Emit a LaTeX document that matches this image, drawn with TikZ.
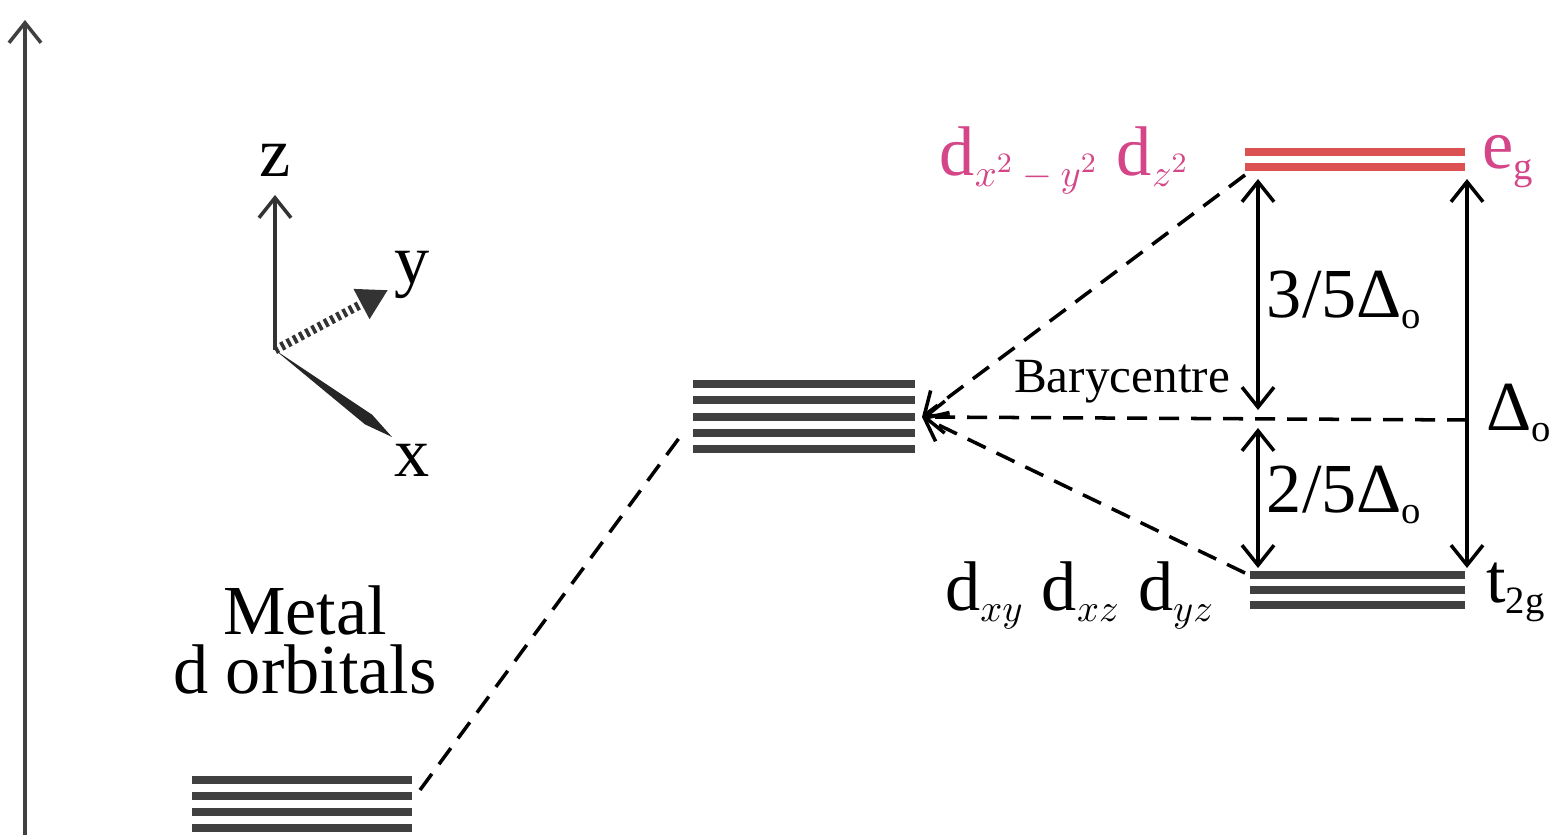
\documentclass[tikz,border=0pt]{standalone}
\usepackage{fontspec}
\setmainfont{Liberation Serif}
\usetikzlibrary{arrows.meta}
\definecolor{egred}{RGB}{220,82,82}
\definecolor{egpink}{RGB}{212,70,135}
\newcommand{\lsub}[1]{\textsubscript{\fontsize{11}{11}\selectfont #1}}
\tikzset{
  lvl/.style={line width=2pt, black!75},
  conn/.style={dash pattern=on 2mm off 1.2mm, line width=1pt},
  barb/.style={line width=1pt, -{Straight Barb[length=2mm,width=3.2mm]}},
  dbarb/.style={line width=1pt, {Straight Barb[length=2mm,width=3.2mm]}-{Straight Barb[length=2mm,width=3.2mm]}},
  big/.style={font=\fontsize{20}{22}\selectfont},
  small/.style={font=\fontsize{14}{16}\selectfont}
}
\begin{document}
\begin{tikzpicture}
    \useasboundingbox (0,0) rectangle (15.56,8.37);

    % energy axis
    \coordinate (e0) at (0.25,0.02);
    \coordinate (e1) at (0.25,8.17);
    \draw[barb, black!75] (e0) -- (e1);

    % coordinate axes
    \coordinate (O) at (2.75,4.87);
    \coordinate (zt) at (2.75,6.42);
    \coordinate (yt) at (3.88,5.47);
    \coordinate (xt) at (3.92,4.00);
    \draw[barb, black!80] (O) -- (zt);
    \draw[line width=2.5pt, black!80, dash pattern=on 1pt off 1pt, -{Triangle[length=3mm,width=3.2mm]}] (O) -- (yt);
    \fill[black!85] (O) -- (3.722,4.222) -- (xt) -- (3.650,4.126) -- cycle;
    \node[big] (zl) at (2.75,6.77) {z};
    \node[big] (yl) at (4.12,5.62) {y};
    \node[big] (xl) at (4.12,3.77) {x};

    % levels
    \foreach \y in {0.57,0.41,0.25,0.09}
        \draw[lvl] (1.92,\y) -- (4.12,\y);
    \foreach \y in {4.53,4.37,4.20,4.04,3.88}
        \draw[lvl] (6.93,\y) -- (9.15,\y);
    \foreach \y in {2.62,2.47,2.32}
        \draw[lvl] (12.50,\y) -- (14.65,\y);
    \foreach \y in {6.85,6.70}
        \draw[lvl, egred] (12.45,\y) -- (14.65,\y);

    \node[big, inner sep=0pt] (metal) at (3.05,2.27) {Metal};
    \node[big, inner sep=0pt] (dorb) at (3.05,1.68) {d orbitals};

    % connectors
    \coordinate (free) at (4.20,0.47);
    \coordinate (baryL) at (6.85,4.07);
    \coordinate (baryR) at (9.22,4.20);
    \coordinate (egL) at (12.45,6.62);
    \coordinate (t2gL) at (12.45,2.64);
    \coordinate (bcR) at (14.67,4.17);
    \draw[conn] (free) -- (baryL);
    \draw[conn, -{Straight Barb[length=2mm,width=3.2mm]}] (egL) -- (baryR);
    \draw[conn, -{Straight Barb[length=2mm,width=3.2mm]}] (bcR) -- (baryR);
    \draw[conn, -{Straight Barb[length=2mm,width=3.2mm]}] (t2gL) -- (baryR);

    % splitting arrows
    \coordinate (egA) at (12.58,6.58);
    \coordinate (bcU) at (12.58,4.27);
    \coordinate (bcD) at (12.58,4.09);
    \coordinate (t2gA) at (12.58,2.69);
    \coordinate (egB) at (14.67,6.58);
    \coordinate (t2gB) at (14.67,2.69);
    \draw[dbarb] (egA) -- (bcU);
    \draw[dbarb] (bcD) -- (t2gA);
    \draw[dbarb] (egB) -- (t2gB);

    % labels
    \node[big] (three) at (13.45,5.37) {3/5Δ\lsub{o}};
    \node[big] (two) at (13.45,3.42) {2/5Δ\lsub{o}};
    \node[big, anchor=west] (delta) at (14.74,4.24) {Δ\lsub{o}};
    \node[small] (bary) at (11.22,4.55) {Barycentre};
    \node[big, anchor=west, egpink] (eg) at (14.70,6.75) {e\lsub{g}};
    \node[big, anchor=west] (t2g) at (14.74,2.45) {t\lsub{2g}};
    \node[big, egpink] (egd) at (10.65,6.77) {d\lsub{$x^2-y^2$} d\lsub{$z^2$}};
    \node[big] (t2gd) at (10.80,2.42) {d\lsub{$xy$} d\lsub{$xz$} d\lsub{$yz$}};
\end{tikzpicture}
\end{document}
